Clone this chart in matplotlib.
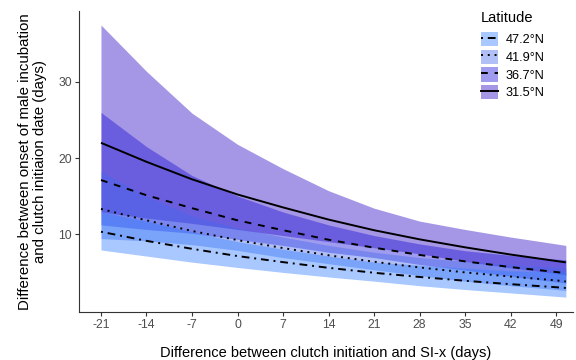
import matplotlib
matplotlib.use("Agg")
import matplotlib.pyplot as plt
from matplotlib.patches import Patch
from matplotlib.lines import Line2D

# values (days)
x = [-21, -14, -7, 0, 7, 14, 21, 28, 35, 42, 49, 50.5]

latitudes = ["47.2°N", "41.9°N", "36.7°N", "31.5°N"]

fit_472 = [10.3, 9.1, 8.05, 7.1, 6.3, 5.55, 4.9, 4.35, 3.85, 3.4, 3.0, 2.9]
lwr_472 = [7.9, 7.1, 6.3, 5.6, 4.95, 4.35, 3.8, 3.2, 2.7, 2.25, 1.8, 1.7]
upr_472 = [12.9, 11.7, 10.3, 9.0, 8.0, 7.1, 6.3, 5.9, 5.5, 5.15, 5.0, 4.95]

fit_419 = [13.3, 11.8, 10.4, 9.2, 8.15, 7.2, 6.35, 5.6, 4.95, 4.4, 3.9, 3.75]
lwr_419 = [9.4, 9.1, 8.6, 7.85, 6.9, 6.1, 5.3, 4.55, 3.8, 3.2, 2.7, 2.55]
upr_419 = [18.2, 15.0, 12.4, 10.8, 9.6, 8.5, 7.6, 6.9, 6.4, 6.0, 5.6, 5.55]

fit_367 = [17.1, 15.1, 13.4, 11.8, 10.5, 9.25, 8.2, 7.25, 6.4, 5.65, 5.0, 4.85]
lwr_367 = [11.2, 10.6, 10.1, 9.3, 8.5, 7.6, 6.9, 6.0, 5.25, 4.45, 3.7, 3.55]
upr_367 = [26.0, 21.5, 17.7, 15.0, 12.9, 11.2, 9.8, 8.7, 7.8, 7.2, 6.7, 6.6]

fit_315 = [22.0, 19.5, 17.2, 15.2, 13.5, 11.9, 10.5, 9.3, 8.25, 7.3, 6.45, 6.27]
lwr_315 = [12.9, 12.1, 11.4, 10.6, 9.8, 9.0, 8.2, 7.4, 6.4, 5.55, 4.8, 4.6]
upr_315 = [37.5, 31.4, 25.9, 21.8, 18.6, 15.7, 13.4, 11.7, 10.6, 9.6, 8.7, 8.5]

fits = [fit_472, fit_419, fit_367, fit_315]
lowers = [lwr_472, lwr_419, lwr_367, lwr_315]
uppers = [upr_472, upr_419, upr_367, upr_315]

fill_colors = ["#307cff", "#4369ee", "#1a11d7", "#2907c3"]
fill_alpha = 0.42
line_styles = [(0, (1, 2.5, 4, 2.5)), (0, (1, 2.5)), (0, (3.5, 3.5)), "solid"]

xticks = [-21, -14, -7, 0, 7, 14, 21, 28, 35, 42, 49]
yticks = [10, 20, 30]


def main():
    plt.rcParams["font.family"] = ["Liberation Sans", "DejaVu Sans"]
    fig = plt.figure(figsize=(5.76, 3.6), dpi=100)
    ax = fig.add_axes([79 / 576, 1 - 312 / 360, 494 / 576, 301 / 360])

    # ribbons: southern latitude at the bottom of the stack
    for lo, hi, c in reversed(list(zip(lowers, uppers, fill_colors))):
        ax.fill_between(x, lo, hi, color=c, alpha=fill_alpha, linewidth=0)
    for f, ls in zip(fits, line_styles):
        ax.plot(x, f, color="black", linewidth=1.4, linestyle=ls,
                dash_capstyle="butt", solid_capstyle="butt")

    ax.set_xlim(-24.38, 51.6)
    ax.set_ylim(-0.26, 39.34)
    ax.set_xticks(xticks)
    ax.set_xticklabels([str(v) for v in xticks])
    ax.set_yticks(yticks)

    for s in ["top", "right"]:
        ax.spines[s].set_visible(False)
    for s in ["left", "bottom"]:
        ax.spines[s].set_color("#333333")
        ax.spines[s].set_linewidth(0.8)
    ax.tick_params(axis="both", colors="#333333", labelcolor="#4d4d4d",
                   labelsize=8.8, length=3, width=0.8, pad=2)

    ax.set_xlabel("Difference between clutch initiation and SI-x (days)",
                  fontsize=10.5, labelpad=11)
    ax.set_ylabel("Difference between onset of male incubation\n"
                  "and clutch initiaion date (days)",
                  fontsize=10.8, labelpad=8, linespacing=1.1)

    # legend: filled key with the line drawn on top
    fig.text(481 / 576, 1 - 17.5 / 360, "Latitude", fontsize=10.5,
             ha="left", va="center")
    handles = []
    for c, ls in zip(fill_colors, line_styles):
        p = Patch(facecolor=c, alpha=fill_alpha, edgecolor="none")
        ln = Line2D([], [], color="black", linewidth=1.4, linestyle=ls)
        handles.append((p, ln))
    fig.legend(handles, latitudes, loc="upper left",
               bbox_to_anchor=(481 / 576, 1 - 32 / 360),
               frameon=False, fontsize=9.2, borderpad=0, borderaxespad=0,
               handlelength=1.3, handleheight=1.33, handletextpad=0.6,
               labelspacing=0.26)

    fig.savefig("out.png", dpi=100)


if __name__ == "__main__":
    main()
